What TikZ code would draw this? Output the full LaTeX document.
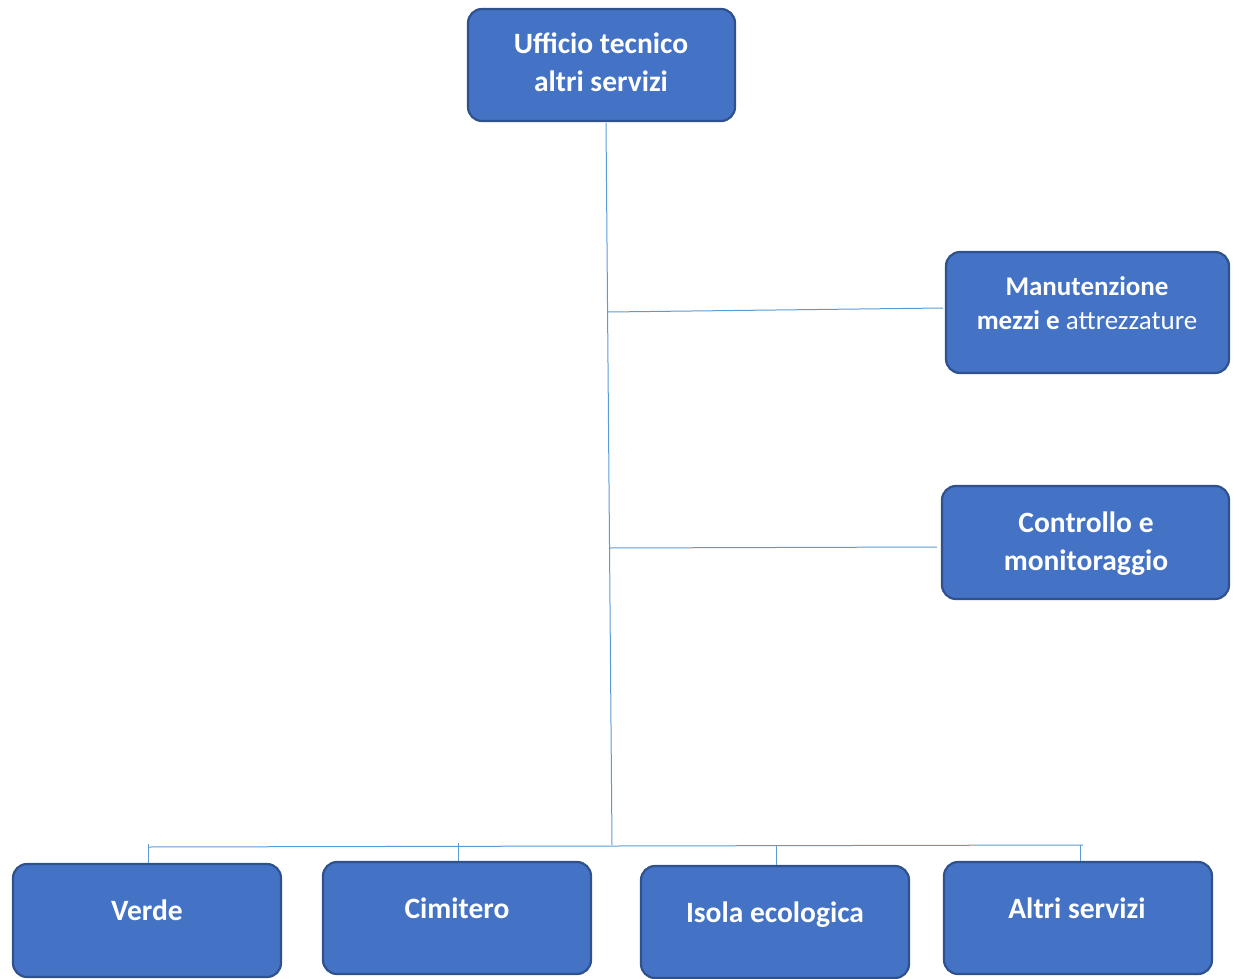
\documentclass[tikz,border=0pt]{standalone}
\usepackage{fontspec}
\setmainfont{Carlito}
\definecolor{boxfill}{HTML}{4472C4}
\definecolor{boxdraw}{HTML}{2F528F}
\definecolor{linkc}{HTML}{5B9BD5}
\begin{document}
\begin{tikzpicture}[x=1pt,y=-1pt,
  orgbox/.style={draw=boxdraw,fill=boxfill,line width=2.2pt,rounded corners=14pt,inner sep=0pt},
  lbl/.style={text=white,font=\fontsize{29.5}{38}\selectfont\bfseries,align=center,inner sep=0pt},
  link/.style={draw=linkc,line width=1pt}]
\useasboundingbox (0,0) rectangle (1240,979);
\node[orgbox,minimum width=267pt,minimum height=112pt] (top) at (601.5,65) {};
\node[orgbox,minimum width=283pt,minimum height=121pt] (man) at (1087.5,312.5) {};
\node[orgbox,minimum width=287pt,minimum height=113pt] (ctl) at (1085.5,542.5) {};
\node[orgbox,minimum width=268pt,minimum height=113pt] (verde) at (147,920.5) {};
\node[orgbox,minimum width=268pt,minimum height=112pt] (cim) at (457,918) {};
\node[orgbox,minimum width=268pt,minimum height=112pt] (isola) at (775,922) {};
\node[orgbox,minimum width=268pt,minimum height=112pt] (altri) at (1078,918) {};
\node[lbl] (toptxt) at (601,62) {Ufficio tecnico\\altri servizi};
\node[lbl,font=\fontsize{27}{34}\selectfont\bfseries] (mantxt) at (1087,303) {Manutenzione\\mezzi e \mdseries attrezzature};
\node[lbl] (ctltxt) at (1086,543.5) {Controllo e\\monitoraggio};
\node[lbl,anchor=base] (verdetxt) at (147,920) {Verde};
\node[lbl,anchor=base] (cimtxt) at (457,918) {Cimitero};
\node[lbl,anchor=base] (isolatxt) at (775,922) {Isola ecologica};
\node[lbl,anchor=base] (altritxt) at (1077,918) {Altri servizi};
\coordinate (vtop) at (606,123);
\coordinate (vbot) at (612,845);
\coordinate (jm) at (608,312);
\coordinate (jc) at (610,548);
\coordinate (hl) at (148,847);
\coordinate (hr) at (1083,845);
\draw[link] (vtop) -- (vbot);
\draw[link] (jm) -- (943,308) coordinate (em);
\draw[link] (jc) -- (937,547) coordinate (ec);
\draw[link] (hl) -- (hr);
\draw[link] (148,844) -- (verde.north -| 148,0);
\draw[link] (458,843) -- (cim.north -| 458,0);
\draw[link] (776,846) -- (isola.north -| 776,0);
\draw[link] (1080,845) -- (altri.north -| 1080,0);
\end{tikzpicture}
\end{document}
